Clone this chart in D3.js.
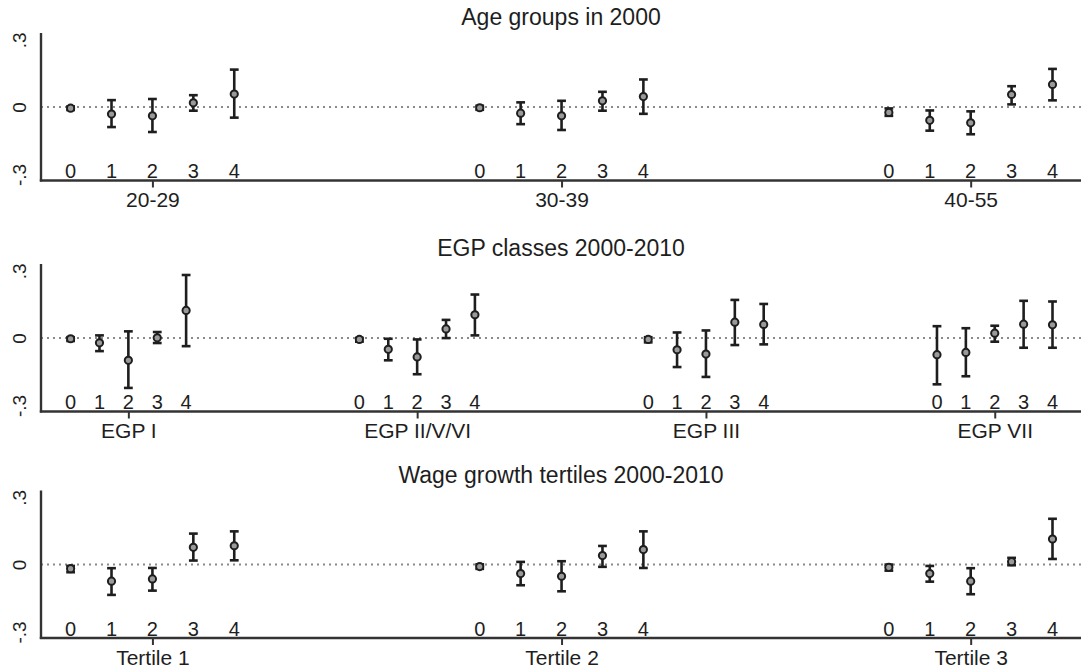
<!DOCTYPE html>
<html>
<head>
<meta charset="utf-8">
<script src="https://cdnjs.cloudflare.com/ajax/libs/d3/7.8.5/d3.min.js"></script>
<style>
  html, body { margin: 0; padding: 0; background: #fff; }
  svg { display: block; }
  text { font-family: "Liberation Sans", Arial, Helvetica, sans-serif; fill: #1e1e1e; }
</style>
</head>
<body>
<svg id="chart" width="1081" height="669"></svg>
<script>
// ---------------- DATA ----------------
const panelTitles = ["Age groups in 2000", "EGP classes 2000-2010", "Wage growth tertiles 2000-2010"];
const itemLabels = ["0", "1", "2", "3", "4"];
const yTickValues = [-0.3, 0, 0.3];
const yTickLabels = ["-.3", "0", ".3"];

// Panel 1: age groups
const ageGroups = ["20-29", "30-39", "40-55"];
const ageEst = [
  [-0.005, -0.031, -0.039, 0.019, 0.058],
  [-0.003, -0.027, -0.039, 0.028, 0.047],
  [-0.024, -0.059, -0.070, 0.056, 0.101]
];
const ageLo = [
  [-0.013, -0.089, -0.111, -0.016, -0.047],
  [-0.012, -0.076, -0.102, -0.016, -0.030],
  [-0.039, -0.105, -0.121, 0.012, 0.030]
];
const ageHi = [
  [0.003, 0.031, 0.036, 0.053, 0.167],
  [0.006, 0.021, 0.028, 0.068, 0.123],
  [-0.006, -0.015, -0.019, 0.093, 0.170]
];

// Panel 2: EGP classes
const egpGroups = ["EGP I", "EGP II/V/VI", "EGP III", "EGP VII"];
const egpEst = [
  [-0.003, -0.021, -0.099, 0.001, 0.123],
  [-0.006, -0.050, -0.084, 0.041, 0.104],
  [-0.006, -0.052, -0.071, 0.071, 0.061],
  [-0.074, -0.064, 0.022, 0.062, 0.059]
];
const egpLo = [
  [-0.013, -0.058, -0.222, -0.022, -0.036],
  [-0.016, -0.099, -0.161, 0.000, 0.012],
  [-0.019, -0.129, -0.173, -0.031, -0.028],
  [-0.206, -0.170, -0.016, -0.043, -0.043]
];
const egpHi = [
  [0.004, 0.012, 0.030, 0.027, 0.281],
  [0.001, -0.003, -0.006, 0.081, 0.194],
  [0.004, 0.025, 0.034, 0.170, 0.152],
  [0.053, 0.044, 0.055, 0.166, 0.163]
];

// Panel 3: wage growth tertiles
const tertileGroups = ["Tertile 1", "Tertile 2", "Tertile 3"];
const tertEst = [
  [-0.018, -0.074, -0.064, 0.077, 0.084],
  [-0.009, -0.040, -0.052, 0.040, 0.067],
  [-0.012, -0.040, -0.074, 0.013, 0.114]
];
const tertLo = [
  [-0.034, -0.135, -0.116, 0.018, 0.019],
  [-0.019, -0.092, -0.119, -0.010, -0.015],
  [-0.027, -0.076, -0.132, -0.003, 0.025]
];
const tertHi = [
  [-0.006, -0.016, -0.015, 0.138, 0.148],
  [0.001, 0.012, 0.015, 0.083, 0.148],
  [0.000, -0.006, -0.016, 0.030, 0.204]
];

// ---------------- LAYOUT ----------------
const W = 1081;
const axisX = 41;
const firstX = 70.6, lastX = 1052.5;
const panelTops = [33, 264, 490.5];
const plotH = 147.5;
const slotsPerGroup = 10;

const panels = [
  { title: panelTitles[0], groups: ageGroups, est: ageEst, lo: ageLo, hi: ageHi },
  { title: panelTitles[1], groups: egpGroups, est: egpEst, lo: egpLo, hi: egpHi },
  { title: panelTitles[2], groups: tertileGroups, est: tertEst, lo: tertLo, hi: tertHi }
];

const svg = d3.select("#chart");
const ink = "#1e1e1e";
const axisInk = "#333";

panels.forEach((p, pi) => {
  const top = panelTops[pi];
  const bottom = top + plotH;
  const G = p.groups.length;
  const x = d3.scaleLinear()
    .domain([0, (G - 1) * slotsPerGroup + itemLabels.length - 1])
    .range([firstX, lastX]);
  const y = d3.scaleLinear().domain([-0.327, 0.33]).range([bottom, top]);

  const g = svg.append("g");

  // title
  g.append("text")
    .attr("x", (axisX + W) / 2)
    .attr("y", top - 8)
    .attr("text-anchor", "middle")
    .style("font-size", "23px")
    .text(p.title);

  // zero reference line (dotted)
  g.append("line")
    .attr("x1", axisX).attr("x2", W)
    .attr("y1", y(0)).attr("y2", y(0))
    .attr("stroke", "#8a8a8a")
    .attr("stroke-width", 2)
    .attr("stroke-dasharray", "2,4");

  // y axis
  const yAxis = d3.axisLeft(y)
    .tickValues(yTickValues)
    .tickFormat((d, i) => yTickLabels[i])
    .tickSize(0);
  const ya = g.append("g").attr("transform", `translate(${axisX},0)`).call(yAxis);
  ya.select(".domain").remove();
  ya.selectAll("text")
    .attr("x", 0).attr("y", -15).attr("dy", null)
    .attr("transform", "rotate(-90)")
    .attr("text-anchor", "middle")
    .style("font-size", "19px")
    .style("fill", ink);
  g.append("line")
    .attr("x1", axisX).attr("x2", axisX)
    .attr("y1", y.range()[1]).attr("y2", bottom + 1)
    .attr("stroke", axisInk).attr("stroke-width", 2.4);

  // x axis with group ticks
  const centers = p.groups.map((_, gi) => gi * slotsPerGroup + 2);
  const xAxis = d3.axisBottom(x)
    .tickValues(centers)
    .tickFormat((d, i) => p.groups[i])
    .tickSize(7)
    .tickPadding(5);
  const xa = g.append("g").attr("transform", `translate(0,${bottom})`).call(xAxis);
  xa.select(".domain").remove();
  xa.selectAll(".tick line").attr("stroke", axisInk).attr("stroke-width", 2);
  xa.selectAll("text").style("font-size", "21px").style("fill", ink);
  g.append("line")
    .attr("x1", axisX - 1.2).attr("x2", W)
    .attr("y1", bottom).attr("y2", bottom)
    .attr("stroke", axisInk).attr("stroke-width", 2.4);

  // points
  const pts = [];
  p.groups.forEach((grp, gi) => {
    itemLabels.forEach((lab, ii) => {
      pts.push({ slot: gi * slotsPerGroup + ii, lab, est: p.est[gi][ii], lo: p.lo[gi][ii], hi: p.hi[gi][ii] });
    });
  });

  // item labels
  g.selectAll(".item").data(pts).enter().append("text")
    .attr("x", d => x(d.slot))
    .attr("y", bottom - 2.5)
    .attr("text-anchor", "middle")
    .style("font-size", "20px")
    .text(d => d.lab);

  const capW = 4.4;
  const sw = 2.6;
  const eb = g.selectAll(".eb").data(pts).enter().append("g");
  eb.append("line")
    .attr("x1", d => x(d.slot)).attr("x2", d => x(d.slot))
    .attr("y1", d => y(d.lo)).attr("y2", d => y(d.hi))
    .attr("stroke", ink).attr("stroke-width", sw);
  eb.append("line")
    .attr("x1", d => x(d.slot) - capW).attr("x2", d => x(d.slot) + capW)
    .attr("y1", d => y(d.lo)).attr("y2", d => y(d.lo))
    .attr("stroke", ink).attr("stroke-width", sw);
  eb.append("line")
    .attr("x1", d => x(d.slot) - capW).attr("x2", d => x(d.slot) + capW)
    .attr("y1", d => y(d.hi)).attr("y2", d => y(d.hi))
    .attr("stroke", ink).attr("stroke-width", sw);
  eb.append("circle")
    .attr("cx", d => x(d.slot)).attr("cy", d => y(d.est))
    .attr("r", 3.6)
    .attr("fill", "#9a9a9a")
    .attr("stroke", ink).attr("stroke-width", 2);
});
</script>
</body>
</html>
